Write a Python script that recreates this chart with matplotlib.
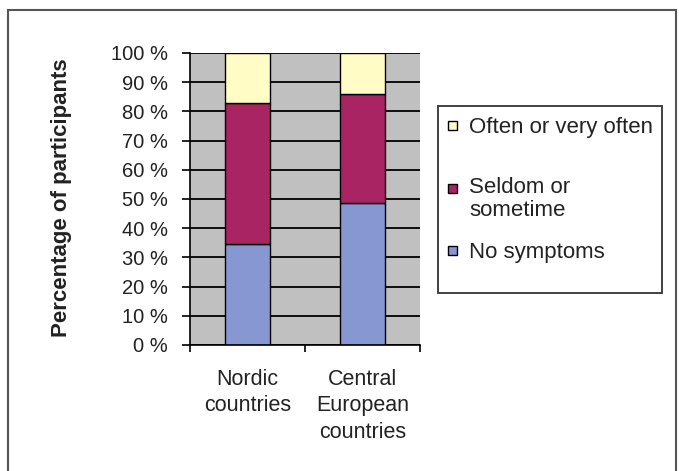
import matplotlib
matplotlib.use("Agg")
import matplotlib.pyplot as plt
from matplotlib.patches import Rectangle
import numpy as np

categories = ["Nordic\ncountries", "Central\nEuropean\ncountries"]
no_symptoms = [34.5, 48.5]
seldom = [48.5, 37.5]
often = [17.0, 14.0]
series_labels = ["No symptoms", "Seldom or\nsometime", "Often or very often"]
yticks = list(range(0, 101, 10))
ytick_labels = [f"{v} %" for v in yticks]

colors = ["#8797d2", "#a82462", "#fffcc6"]
FONT = "Liberation Sans"
plt.rcParams['font.family'] = [FONT, 'DejaVu Sans']

W, H = 679, 471
fig = plt.figure(figsize=(W / 100, H / 100), dpi=100)
fig.patch.set_facecolor("white")

def px(x0, y0, x1, y1):
    return [x0 / W, 1 - y1 / H, (x1 - x0) / W, (y1 - y0) / H]

ax = fig.add_axes(px(190, 53, 420, 345))
ax.set_facecolor("#c0c0c0")

x = np.arange(len(categories))
width = 0.39
series = [no_symptoms, seldom, often]
bottom = np.zeros(len(categories))
for vals, c in zip(series, colors):
    ax.bar(x, vals, width, bottom=bottom, color=c, edgecolor="black", linewidth=1.0, zorder=3)
    bottom += np.array(vals)

ax.set_xlim(-0.5, 1.5)
ax.set_ylim(0, 100)
ax.set_yticks(yticks)
ax.set_yticklabels(ytick_labels, fontsize=14.5, color="#222222")
ax.yaxis.grid(True, color="black", linewidth=1.3, zorder=1)
ax.set_axisbelow(True)
ax.set_xticks(x)
ax.set_xticklabels(categories, fontsize=15.5, color="#222222", linespacing=1.35)
ax.set_xticks([-0.5, 0.5, 1.5], minor=True)
ax.tick_params(axis="x", which="major", length=0, pad=17)
ax.tick_params(axis="x", which="minor", length=5, width=1.2, color="black", direction="out")
ax.tick_params(axis="y", length=6, width=1.2, color="black", pad=10)
for s in ["top", "right"]:
    ax.spines[s].set_visible(False)
for s in ["left", "bottom"]:
    ax.spines[s].set_linewidth(1.2)
    ax.spines[s].set_zorder(4)

fig.text(62 / W, 1 - 198 / H, "Percentage of participants", rotation=90,
         ha="center", va="center", fontsize=16, fontweight="bold", color="#222222")

# legend (drawn manually to match layout)
fig.add_artist(Rectangle((438 / W, 1 - 293 / H), (662 - 438) / W, (293 - 106) / H,
                         transform=fig.transFigure, facecolor="white", edgecolor="#333333", linewidth=1.3))
entries = [(series_labels[2], colors[2], 125), (series_labels[1], colors[1], 188), (series_labels[0], colors[0], 250)]
for label, c, yc in entries:
    s = 9
    fig.add_artist(Rectangle((448 / W, 1 - (yc + s / 2) / H), s / W, s / H,
                             transform=fig.transFigure, facecolor=c, edgecolor="black", linewidth=1.0))
    if "\n" in label:
        fig.text(469 / W, 1 - (yc - 11) / H, label, ha="left", va="top",
                 fontsize=16, color="#222222", linespacing=1.1)
    else:
        fig.text(469 / W, 1 - yc / H, label, ha="left", va="center_baseline",
                 fontsize=16, color="#222222")

# outer frame
fig.add_artist(Rectangle((8 / W, -0.05), (676 - 8) / W, 1 - 10 / H + 0.05,
                         transform=fig.transFigure, facecolor="none", edgecolor="#555555", linewidth=1.5))

fig.savefig("out.png", dpi=100)
